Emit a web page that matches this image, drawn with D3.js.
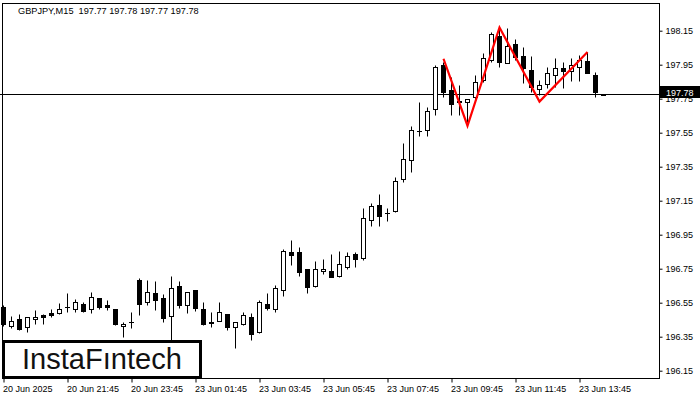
<!DOCTYPE html>
<html><head><meta charset="utf-8">
<script src="https://cdn.jsdelivr.net/npm/d3@7"></script>
<style>
html,body{margin:0;padding:0;background:#fff;}
svg{display:block;}
text{font-family:"Liberation Sans",Arial,sans-serif;}
</style></head>
<body>
<svg id="chart" width="700" height="400"></svg>
<script>
// ---- data ----
const symbol = "GBPJPY,M15";
const lastBar = [197.77, 197.78, 197.77, 197.78];
const bidPrice = 197.78;
const open = [196.524,196.412,196.453,196.406,196.453,196.477,196.489,196.489,196.527,196.512,196.541,196.512,196.577,196.536,196.512,196.412,196.438,196.683,196.553,196.606,196.577,196.471,196.647,196.536,196.624,196.512,196.436,196.441,196.483,196.406,196.424,196.465,196.377,196.541,196.512,196.624,196.847,196.847,196.747,196.647,196.736,196.736,196.706,196.759,196.836,196.812,197.035,197.124,197.076,197.088,197.277,197.388,197.559,197.565,197.688,197.947,197.800,197.735,197.729,197.759,197.859,197.976,198.118,197.959,198.071,198.000,197.918,197.806,197.835,197.888,197.929,197.912,197.935,197.971,197.888,197.770];
const high = [196.536,196.471,196.483,196.465,196.506,196.483,196.512,196.547,196.606,196.571,196.553,196.612,196.578,196.565,196.513,196.436,196.494,196.694,196.683,196.677,196.600,196.706,196.677,196.612,196.625,196.553,196.494,196.553,196.484,196.437,196.494,196.489,196.565,196.606,196.653,196.865,196.918,196.877,196.748,196.794,196.806,196.836,196.853,196.847,196.847,197.106,197.135,197.188,197.106,197.288,197.488,197.588,197.729,197.700,197.947,197.965,197.877,197.829,197.748,197.888,198.018,198.141,198.165,198.165,198.100,198.053,198.000,197.859,197.935,197.988,197.965,197.988,198.006,198.024,197.906,197.780];
const low = [196.412,196.400,196.389,196.377,196.424,196.424,196.465,196.483,196.494,196.494,196.494,196.489,196.512,196.506,196.418,196.347,196.400,196.477,196.536,196.506,196.436,196.330,196.518,196.489,196.500,196.418,196.406,196.440,196.389,196.283,196.418,196.330,196.371,196.506,196.494,196.589,196.771,196.706,196.606,196.642,196.718,196.699,196.700,196.747,196.759,196.800,197.000,197.000,197.030,197.082,197.259,197.318,197.529,197.529,197.653,197.759,197.653,197.653,197.612,197.741,197.847,197.965,197.935,197.958,197.976,197.841,197.788,197.771,197.812,197.818,197.812,197.853,197.853,197.900,197.759,197.770];
const close = [196.424,196.441,196.394,196.465,196.465,196.465,196.477,196.512,196.524,196.553,196.500,196.583,196.524,196.524,196.424,196.424,196.436,196.541,196.612,196.565,196.459,196.636,196.536,196.612,196.518,196.424,196.433,196.494,196.406,196.436,196.477,196.365,196.553,196.518,196.636,196.853,196.830,196.730,196.642,196.747,196.747,196.700,196.777,196.824,196.806,197.047,197.118,197.059,197.080,197.265,197.394,197.565,197.562,197.676,197.935,197.788,197.718,197.729,197.747,197.847,197.988,198.129,197.965,198.059,197.994,197.929,197.818,197.829,197.900,197.929,197.912,197.947,197.976,197.900,197.788,197.780];
const priceTicks = [198.15,197.95,197.75,197.55,197.35,197.15,196.95,196.75,196.55,196.35,196.15];
const timeTickIndex = [0,8,16,24,32,40,48,56,64,72];
const timeTickLabels = ["20 Jun 2025","20 Jun 21:45","20 Jun 23:45","23 Jun 01:45","23 Jun 03:45","23 Jun 05:45","23 Jun 07:45","23 Jun 09:45","23 Jun 11:45","23 Jun 13:45"];
const patternIndex = [55,58,62,67,73];
const patternPrice = [197.985,197.591,198.169,197.733,198.025];
const logoText = "InstaFıntech";

// ---- chart ----
const svg = d3.select("#chart");
const plotRight = 659.5, plotBottom = 378.5, plotTop = 3.5, plotLeft = 2.5;
const x = d3.scaleLinear().domain([0, open.length - 1]).range([3.5, 603.5]);
const y = d3.scaleLinear().domain([196.15, 198.15]).range([370.7, 30.7]);

const candles = open.map((o, i) => ({i, o, h: high[i], l: low[i], c: close[i]}));

// bid line (background)
svg.append("line")
  .attr("x1", 0).attr("x2", plotRight)
  .attr("y1", Math.round(y(bidPrice)) + 0.5).attr("y2", Math.round(y(bidPrice)) + 0.5)
  .attr("stroke", "#000").attr("stroke-width", 1);

const g = svg.append("g");
g.selectAll("line.wick").data(candles).enter().append("line")
  .attr("class", "wick")
  .attr("x1", d => x(d.i)).attr("x2", d => x(d.i))
  .attr("y1", d => Math.round(y(d.h)) + 0.5).attr("y2", d => Math.round(y(d.l)) + 0.5)
  .attr("stroke", "#000").attr("stroke-width", 1);
g.selectAll("rect.body").data(candles).enter().append("rect")
  .attr("class", "body")
  .attr("x", d => x(d.i) - 2).attr("width", 4)
  .attr("y", d => Math.round(y(Math.max(d.o, d.c))) + 0.5)
  .attr("height", d => Math.max(0.01, Math.round(y(Math.min(d.o, d.c))) - Math.round(y(Math.max(d.o, d.c)))))
  .attr("fill", d => d.c >= d.o ? "#fff" : "#000")
  .attr("stroke", "#000").attr("stroke-width", 1);

// pattern lines
const pts = patternIndex.map((d, k) => [d, patternPrice[k]]);
svg.append("path")
  .attr("d", d3.line().x(d => x(d[0])).y(d => y(d[1]))(pts))
  .attr("fill", "none").attr("stroke", "#ff0000").attr("stroke-width", 2.2)
  .attr("stroke-linejoin", "miter");

// frame
svg.append("rect")
  .attr("x", plotLeft).attr("y", plotTop)
  .attr("width", plotRight - plotLeft).attr("height", plotBottom - plotTop)
  .attr("fill", "none").attr("stroke", "#000").attr("stroke-width", 1);

// right axis
const yAxis = d3.axisRight(y).tickValues(priceTicks).tickSize(3).tickPadding(3)
  .tickFormat(d3.format(".2f"));
const ya = svg.append("g").attr("transform", `translate(${plotRight},0)`).call(yAxis);
ya.select(".domain").remove();
ya.selectAll("text").attr("font-family", "Liberation Sans, Arial, sans-serif")
  .attr("font-size", 9).attr("fill", "#000");
ya.selectAll("line").attr("stroke", "#000");

// bottom axis
const xAxis = d3.axisBottom(x).tickValues(timeTickIndex).tickSize(4).tickPadding(3)
  .tickFormat((d, k) => timeTickLabels[k]);
const xa = svg.append("g").attr("transform", `translate(0,${plotBottom})`).call(xAxis);
xa.select(".domain").remove();
xa.selectAll("text").attr("font-family", "Liberation Sans, Arial, sans-serif")
  .attr("font-size", 9).attr("fill", "#000").attr("text-anchor", "start").attr("dx", -1);
xa.selectAll("line").attr("stroke", "#000");

// bid price label
const by = y(bidPrice);
svg.append("rect").attr("x", 660).attr("y", by - 7.6).attr("width", 40).attr("height", 12).attr("fill", "#000");
svg.append("text").attr("x", 666).attr("y", by + 2.6).attr("fill", "#fff")
  .attr("font-size", 9).text(bidPrice.toFixed(2));

// header
svg.append("text").attr("x", 18).attr("y", 14).attr("font-size", 9.2).attr("fill", "#000")
  .attr("xml:space", "preserve")
  .text(symbol + "  " + lastBar.map(v => v.toFixed(2)).join(" "));

// logo
svg.append("rect").attr("x", 3.5).attr("y", 341.5).attr("width", 197).attr("height", 36)
  .attr("fill", "#fff").attr("stroke", "#000").attr("stroke-width", 3);
const lt = svg.append("text").attr("x", 22).attr("y", 369)
  .attr("font-family", "Roboto, Lato, sans-serif").attr("font-weight", 500)
  .attr("font-size", 28).attr("fill", "#111").text(logoText);
const w = lt.node().getComputedTextLength();
lt.attr("font-size", 28 * 160 / w);
</script>
</body></html>
